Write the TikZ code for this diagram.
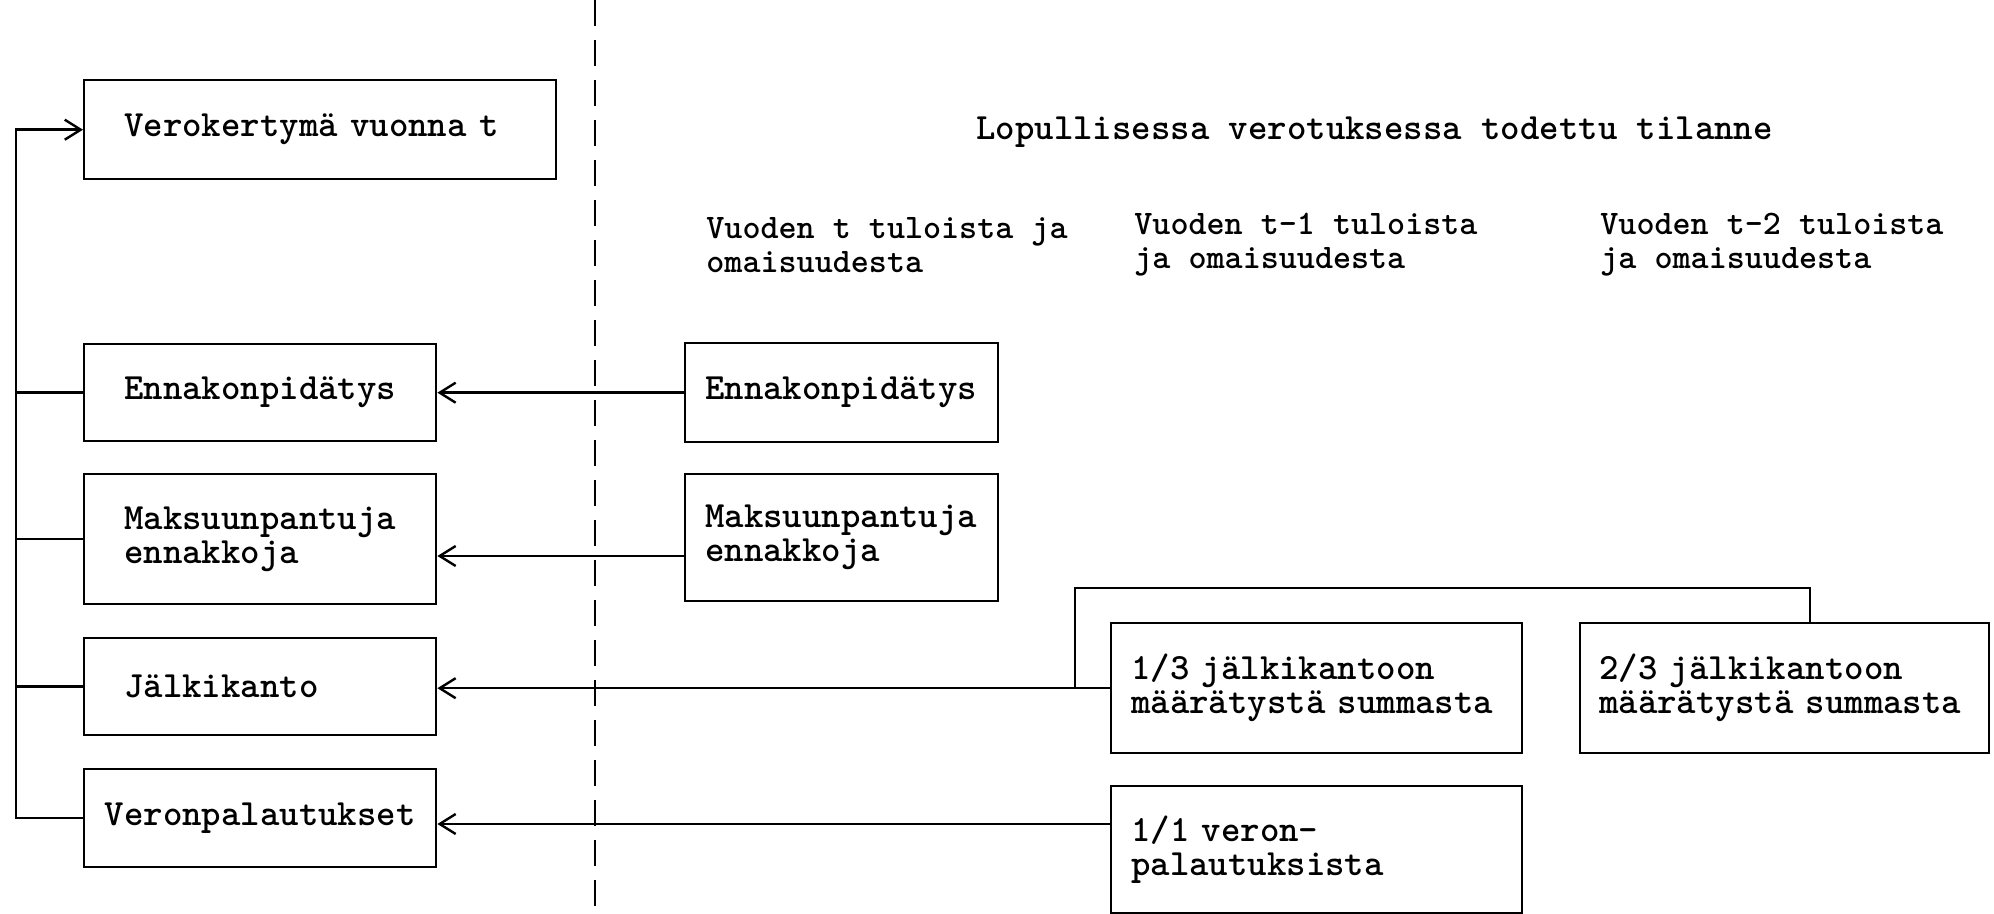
\documentclass[tikz,border=0pt]{standalone}
\usetikzlibrary{arrows.meta}
\newcommand{\twfont}{\ttfamily\bfseries\fontsize{18.5}{17}\selectfont}
\newcommand{\colfont}{\ttfamily\bfseries\fontsize{17.2}{17}\selectfont}
\begin{document}
\begin{tikzpicture}[x=0.5pt,y=-0.5pt,
  box/.style={draw, line width=1.2pt, anchor=north west, inner ysep=0pt, align=left, font=\twfont},
  lbox/.style={box, inner xsep=20pt, text width=136pt},
  rbox/.style={box, inner xsep=10pt},
  lbl/.style={anchor=west, inner sep=0pt, align=left, font=\twfont},
  collbl/.style={lbl, font=\colfont},
  conn/.style={line width=1.2pt},
  arr/.style={conn, -{Straight Barb[length=8pt,width=10pt]}},
  divider/.style={line width=1.2pt, dash pattern=on 13pt off 7pt}]
\fill[white] (0,0) rectangle (1994,914);
\useasboundingbox (0,0) rectangle (1994,914);

% left column
\node[box, inner xsep=20pt, text width=196pt, minimum height=49.5pt] (vk) at (83,79) {Verokertymä vuonna t};
\node[lbox, minimum height=48.5pt] (enL) at (83,343) {Ennakonpidätys};
\node[lbox, minimum height=65pt] (mkL) at (83,473) {Maksuunpantuja\\ennakkoja};
\node[lbox, minimum height=48.5pt] (jkL) at (83,637) {Jälkikanto};
\node[box, inner xsep=10pt, text width=156pt, align=center, minimum height=49pt] (vpL) at (83,768) {Veronpalautukset};

% right side
\node[rbox, text width=136.5pt, minimum height=49.5pt] (enR) at (684,342) {Ennakonpidätys};
\node[rbox, text width=136.5pt, minimum height=63.5pt] (mkR) at (684,473) {Maksuunpantuja\\ennakkoja};
\node[rbox, text width=185.5pt, minimum height=65pt] (t13) at (1110,622) {1/3 jälkikantoon\\määrätystä summasta};
\node[rbox, inner xsep=9.5pt, text width=185.5pt, minimum height=65pt] (t23) at (1579,622) {2/3 jälkikantoon\\määrätystä summasta};
\node[rbox, text width=185.5pt, minimum height=63.5pt] (v11) at (1110,785) {1/1 veron-\\palautuksista};

% headings
\node[lbl] (head) at (976,132) {Lopullisessa verotuksessa todettu tilanne};
\node[collbl] (c0) at (706,245) {Vuoden t tuloista ja\\omaisuudesta};
\node[collbl] (c1) at (1134,245) {Vuoden t-1 tuloista\\ja omaisuudesta};
\node[collbl] (c2) at (1600,245) {Vuoden t-2 tuloista\\ja omaisuudesta};

% divider
\coordinate (dtop) at (595,0);
\coordinate (dbot) at (595,914);
\draw[divider] (dtop) -- (dbot);

% feedback loop
\coordinate (fbx) at (16,500);
\draw[arr] (vpL.west) -| (fbx) |- (vk.west);
\foreach \n in {enL,mkL,jkL} \draw[conn] (\n.west) -- (\n.west -| fbx);

% flows right to left
\draw[arr] (enR.west) -- (enL.east);
\coordinate (ymk) at (0,556);
\draw[arr] (mkR.west |- ymk) -- (mkL.east |- ymk);
\draw[arr] (t13.west) -- (t13.west -| jkL.east);
\coordinate (yvp) at (0,824);
\draw[arr] (v11.west |- yvp) -- (vpL.east |- yvp);

% bracket linking 1/3 and 2/3
\coordinate (br1) at (1075,588);
\coordinate (br2) at (1810,588);
\draw[conn] (t13.west -| br1) -- (br1) -- (br2) -- (br2 |- t23.north);
\end{tikzpicture}
\end{document}
